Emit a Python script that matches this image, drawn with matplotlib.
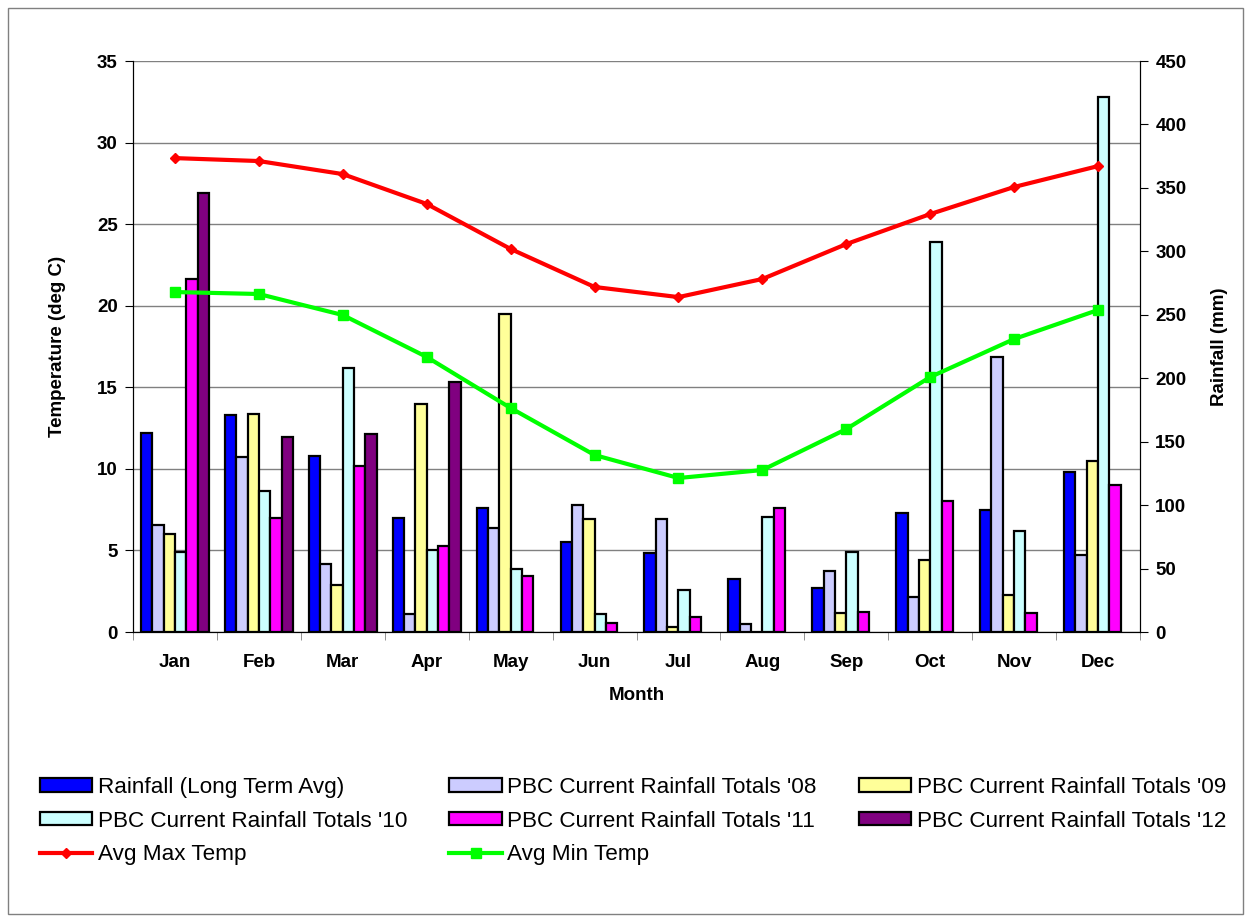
import numpy as np
import matplotlib.pyplot as plt
from matplotlib.patches import Rectangle

plt.rcParams['font.family'] = ['Liberation Sans', 'DejaVu Sans']

months = ['Jan', 'Feb', 'Mar', 'Apr', 'May', 'Jun',
          'Jul', 'Aug', 'Sep', 'Oct', 'Nov', 'Dec']

# rainfall in mm
rain_avg = [157, 171, 139, 90, 98, 71, 62, 42, 35, 94, 96, 126]
rain_08 = [84, 138, 54, 14, 82, 100, 89, 6, 48, 28, 217, 61]
rain_09 = [77, 172, 37, 180, 251, 89, 4, 0, 15, 57, 29, 135]
rain_10 = [63, 111, 208, 65, 50, 14, 33, 91, 63, 307, 80, 422]
rain_11 = [278, 90, 131, 68, 44, 7, 12, 98, 16, 103, 15, 116]
rain_12 = [346, 154, 156, 197, np.nan, np.nan, np.nan, np.nan,
           np.nan, np.nan, np.nan, np.nan]

# temperatures in deg C
max_temp = [29.05, 28.87, 28.07, 26.24, 23.48, 21.15,
            20.53, 21.64, 23.78, 25.62, 27.28, 28.56]
min_temp = [20.84, 20.72, 19.43, 16.86, 13.73, 10.85,
            9.44, 9.93, 12.44, 15.63, 17.96, 19.74]

series = [
    (rain_avg, '#0000FF', "Rainfall (Long Term Avg)"),
    (rain_08, '#CCCCFF', "PBC Current Rainfall Totals '08"),
    (rain_09, '#FFFF99', "PBC Current Rainfall Totals '09"),
    (rain_10, '#CCFFFF', "PBC Current Rainfall Totals '10"),
    (rain_11, '#FF00FF', "PBC Current Rainfall Totals '11"),
    (rain_12, '#800080', "PBC Current Rainfall Totals '12"),
]

fig = plt.figure(figsize=(12.5, 9.22), dpi=100)
ax = fig.add_axes([0.1064, 0.3145, 0.8056, 0.6193])
ax_r = ax.twinx()
ax_l = ax.twinx()

x = np.arange(len(months))
w = 0.81 / 6

# temperature axis (left) with gridlines
ax.set_xlim(-0.5, 11.5)
ax.set_ylim(0, 35)
ax.set_yticks(np.arange(0, 36, 5))
ax.yaxis.grid(True, color='#808080', linewidth=1.0)
ax.set_axisbelow(True)
ax.set_xticks(x)
ax.set_xticklabels(months)
ax.set_xticks(np.arange(-0.5, 12, 1), minor=True)
ax.tick_params(axis='x', which='major', length=0, pad=16, labelsize=13.5)
ax.tick_params(axis='x', which='minor', length=6, direction='out', color='#808080')
ax.tick_params(axis='y', length=6, direction='out', labelsize=13.5, pad=5)
for t in ax.get_xticklabels() + ax.get_yticklabels():
    t.set_fontweight('bold')
ax.set_xlabel('Month', fontsize=13.5, fontweight='bold', labelpad=11)
ax.set_ylabel('Temperature (deg C)', fontsize=13.5, fontweight='bold', labelpad=22)
ax.spines['top'].set_visible(False)

# rainfall bars (right)
handles = []
for i, (vals, col, lab) in enumerate(series):
    b = ax_r.bar(x + (i - 2.5) * w, vals, width=w, color=col,
                 edgecolor='black', linewidth=1.6, label=lab)
    handles.append(b)
ax_r.set_ylim(0, 450)
ax_r.set_yticks(np.arange(0, 451, 50))
ax_r.tick_params(axis='y', length=6, direction='out', labelsize=13.5, pad=5)
for t in ax_r.get_yticklabels():
    t.set_fontweight('bold')
ax_r.set_ylabel('Rainfall (mm)', fontsize=13.5, fontweight='bold', labelpad=18)
ax_r.spines['top'].set_visible(False)

# temperature lines drawn above the bars
ax_l.set_ylim(0, 35)
ax_l.axis('off')
l1, = ax_l.plot(x, max_temp, color='#FF0000', linewidth=3, marker='D',
                markersize=5, label='Avg Max Temp')
l2, = ax_l.plot(x, min_temp, color='#00FF00', linewidth=3, marker='s',
                markersize=7, label='Avg Min Temp')

order = [handles[0], handles[3], l1, handles[1], handles[4], l2,
         handles[2], handles[5]]
fig.legend(handles=order, labels=[h.get_label() for h in order],
           loc='upper left', bbox_to_anchor=(0.0246, 0.167), ncol=3,
           frameon=False, fontsize=16.2, handlelength=2.33, handleheight=0.55,
           handletextpad=0.25, columnspacing=1.87, labelspacing=0.56,
           borderaxespad=0)

fig.patches.append(Rectangle((0.006, 0.009), 0.988, 0.982, transform=fig.transFigure,
                             fill=False, edgecolor='#808080', linewidth=1))

fig.savefig('out.png', dpi=100)
